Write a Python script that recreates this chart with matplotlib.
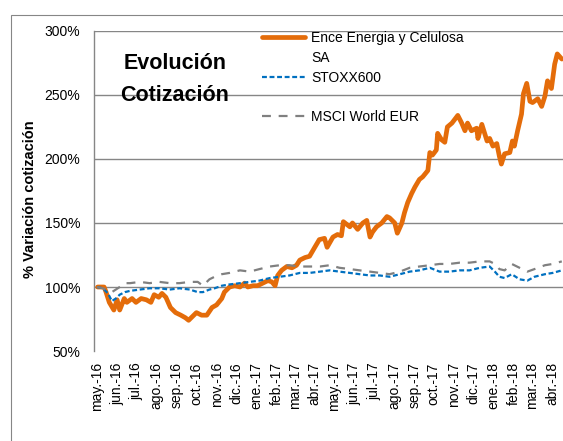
import numpy as np
import pandas as pd
import matplotlib
matplotlib.use("Agg")
import matplotlib.pyplot as plt
import matplotlib.dates as mdates
from matplotlib.lines import Line2D
from matplotlib.patches import Rectangle

plt.rcParams['font.family'] = ['Liberation Sans', 'DejaVu Sans']

# Ence Energia y Celulosa (base 100)
ence_dates = [
    "2016-05-02", "2016-05-12", "2016-05-15", "2016-05-20", "2016-05-27", "2016-06-01",
    "2016-06-05", "2016-06-12", "2016-06-16", "2016-06-24", "2016-06-30", "2016-07-08",
    "2016-07-16", "2016-07-23", "2016-07-28", "2016-08-04", "2016-08-09", "2016-08-15",
    "2016-08-22", "2016-08-30", "2016-09-07", "2016-09-14", "2016-09-19", "2016-09-27",
    "2016-10-01", "2016-10-09", "2016-10-17", "2016-10-25", "2016-11-01", "2016-11-09",
    "2016-11-13", "2016-11-21", "2016-11-29", "2016-12-07", "2016-12-14", "2016-12-19",
    "2016-12-27", "2017-01-03", "2017-01-11", "2017-01-19", "2017-01-25", "2017-01-30",
    "2017-02-03", "2017-02-09", "2017-02-17", "2017-02-25", "2017-03-04", "2017-03-09",
    "2017-03-17", "2017-03-24", "2017-04-01", "2017-04-08", "2017-04-16", "2017-04-20",
    "2017-04-29", "2017-05-06", "2017-05-12", "2017-05-15", "2017-05-25", "2017-05-29",
    "2017-06-06", "2017-06-14", "2017-06-20", "2017-06-25", "2017-06-29", "2017-07-05",
    "2017-07-13", "2017-07-21", "2017-07-25", "2017-08-02", "2017-08-06", "2017-08-13",
    "2017-08-17", "2017-08-22", "2017-08-28", "2017-09-02", "2017-09-09", "2017-09-14",
    "2017-09-22", "2017-09-25", "2017-09-29", "2017-10-05", "2017-10-07", "2017-10-13",
    "2017-10-18", "2017-10-22", "2017-10-29", "2017-11-07", "2017-11-13", "2017-11-18",
    "2017-11-22", "2017-11-28", "2017-12-06", "2017-12-08", "2017-12-14", "2017-12-22",
    "2017-12-26", "2017-12-31", "2018-01-06", "2018-01-10", "2018-01-13", "2018-01-18",
    "2018-01-26", "2018-01-30", "2018-02-02", "2018-02-07", "2018-02-13", "2018-02-16",
    "2018-02-21", "2018-02-26", "2018-03-02", "2018-03-10", "2018-03-16", "2018-03-21",
    "2018-03-25", "2018-03-31", "2018-04-05", "2018-04-09", "2018-04-16",
]
ence_values = [
    100, 100, 96, 88, 82, 90,
    82, 91, 88, 91, 88, 91,
    90, 88, 94, 92, 95, 92,
    84, 80, 78, 76, 74, 78,
    80, 78, 78, 84, 86, 91,
    96, 100, 101, 100, 103, 100,
    101, 101, 103, 105, 104, 101,
    109, 113, 116, 115, 117, 121,
    123, 124, 131, 137, 138, 131,
    139, 141, 140, 151, 147, 150,
    145, 150, 152, 139, 143, 147,
    150, 155, 154, 150, 142, 150,
    158, 166, 173, 178, 184, 186,
    191, 205, 203, 207, 220, 215,
    213, 225, 228, 234, 228, 222,
    228, 222, 224, 216, 227, 214,
    216, 210, 212, 202, 196, 204,
    205, 214, 210, 222, 235, 251,
    259, 245, 244, 247, 241, 249,
    261, 255, 274, 282, 278,
]

# STOXX600 and MSCI World EUR share one date list
index_dates = [
    "2016-05-01", "2016-05-10", "2016-05-18", "2016-05-24", "2016-05-30", "2016-06-05",
    "2016-06-13", "2016-06-21", "2016-07-06", "2016-07-21", "2016-08-05", "2016-08-21",
    "2016-09-05", "2016-09-21", "2016-10-03", "2016-10-11", "2016-10-21", "2016-10-29",
    "2016-11-09", "2016-11-21", "2016-12-07", "2016-12-22", "2017-01-06", "2017-01-22",
    "2017-02-06", "2017-02-21", "2017-03-09", "2017-03-24", "2017-04-09", "2017-04-24",
    "2017-05-09", "2017-05-25", "2017-06-09", "2017-06-25", "2017-07-10", "2017-07-25",
    "2017-08-10", "2017-08-25", "2017-09-09", "2017-09-25", "2017-10-10", "2017-10-25",
    "2017-11-10", "2017-11-25", "2017-12-11", "2017-12-26", "2018-01-03", "2018-01-10",
    "2018-01-18", "2018-01-29", "2018-02-10", "2018-02-22", "2018-03-05", "2018-03-21",
    "2018-04-02", "2018-04-16",
]
stoxx_values = [
    100, 99, 95, 89, 91, 94,
    96, 97, 98, 99, 99, 98,
    99, 98, 96, 96, 98, 99,
    101, 102, 103, 104, 105, 107,
    108, 109, 111, 111, 112, 113,
    112, 111, 110, 109, 109, 108,
    110, 112, 113, 115, 112, 112,
    113, 113, 115, 116, 112, 108,
    107, 110, 106, 105, 108, 110,
    111, 113,
]
msci_values = [
    100, 99, 97, 96, 98, 100,
    103, 103, 104, 103, 104, 103,
    103, 104, 104, 101, 106, 108,
    110, 111, 113, 112, 114, 116,
    117, 117, 116, 116, 116, 117,
    115, 114, 113, 112, 111, 110,
    112, 115, 116, 117, 118, 118,
    119, 119, 120, 120, 118, 114,
    113, 118, 115, 112, 114, 117,
    118, 120,
]

legend_labels = ["Ence Energia y Celulosa", "SA", "STOXX600", " ", "MSCI World EUR"]
month_abbr = ["ene", "feb", "mar", "abr", "may", "jun", "jul", "ago", "sep", "oct", "nov", "dic"]
y_ticks = [50, 100, 150, 200, 250, 300]

ence_d = pd.to_datetime(ence_dates)
idx_d = pd.to_datetime(index_dates)

fig = plt.figure(figsize=(5.63, 4.41), dpi=100)
ax = fig.add_axes([0.167, 0.204, 0.854, 0.726])

grid_c = "#868686"
l1, = ax.plot(ence_d, ence_values, color="#E46C0A", lw=3.4, solid_capstyle="round", zorder=3)
l2, = ax.plot(idx_d, stoxx_values, color="#0070C0", lw=1.6, linestyle=(0, (2.2, 1.2)), zorder=4)
l3, = ax.plot(idx_d, msci_values, color="#808080", lw=1.6, linestyle=(0, (4, 3.5)), zorder=5)

ax.set_ylim(50, 300)
ax.set_yticks(y_ticks)
ax.set_yticklabels([f"{v}%" for v in y_ticks])
ax.set_xlim(pd.Timestamp("2016-04-26 12:00"), pd.Timestamp("2018-05-06"))

tick_d = pd.date_range("2016-05-01", "2018-04-01", freq="MS")
ax.set_xticks(tick_d)
ax.set_xticklabels([f"{month_abbr[d.month - 1]}.-{d.year % 100:02d}" for d in tick_d],
                   rotation=90, fontsize=10)

ax.tick_params(axis="both", length=0, labelsize=10, colors="black")
ax.tick_params(axis="y", pad=10)
ax.tick_params(axis="x", pad=8)

ax.yaxis.grid(True, color=grid_c, lw=1)
ax.set_axisbelow(True)
ax.get_ygridlines()[0].set_visible(False)
for s in ["top", "right", "bottom"]:
    ax.spines[s].set_visible(False)
ax.spines["left"].set_color(grid_c)
ax.spines["left"].set_linewidth(1)

# legend: the long name wraps onto a second row, and Excel leaves a gap before MSCI
blank = Line2D([], [], color="none")
leg = ax.legend([l1, blank, l2, blank, l3], legend_labels,
                loc="upper left", bbox_to_anchor=(0.349, 1.0), frameon=False,
                fontsize=10, handlelength=3.1, handletextpad=0.45, labelspacing=0.42,
                borderpad=0, borderaxespad=0)

ax.text(0.168, 0.848, "Evolución\nCotización", transform=ax.transAxes, ha="center", va="center",
        fontsize=15.5, fontweight="bold", linespacing=1.65)

fig.text(30 / 563, 1 - 199 / 441, "% Variación cotización", rotation=90, ha="center", va="center",
         fontsize=10.5, fontweight="bold")

fig.patches.append(Rectangle((11 / 563, -0.05), 1.0, 1.05 - 15 / 441, transform=fig.transFigure,
                             fill=False, edgecolor=grid_c, lw=0.8))

fig.savefig("out.png", dpi=100)
